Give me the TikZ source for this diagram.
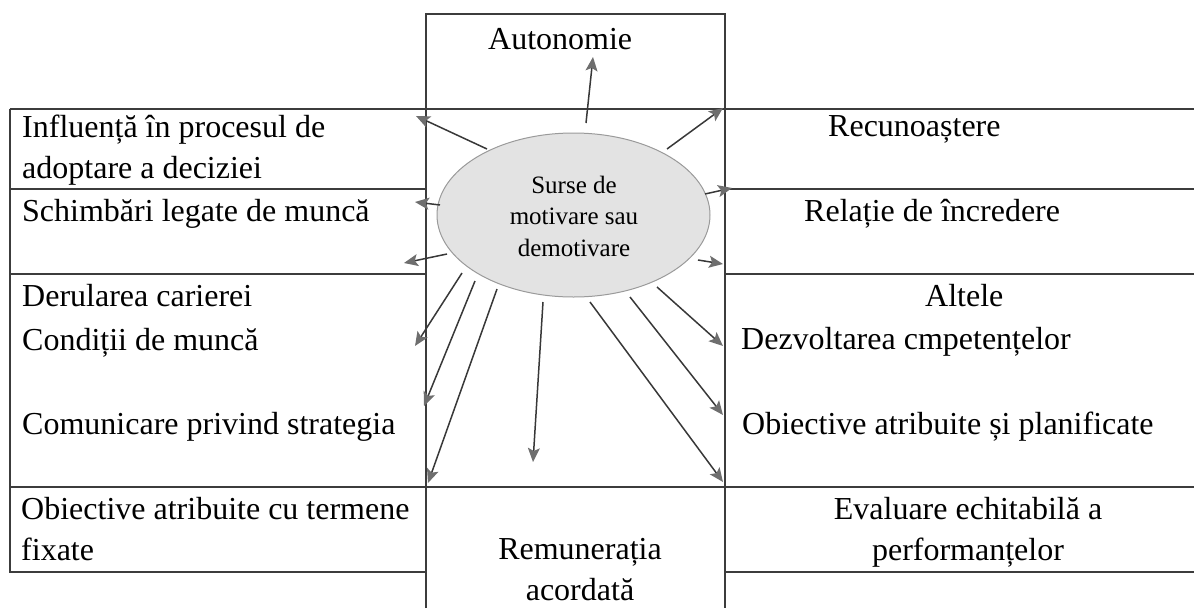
\documentclass[tikz,border=0pt]{standalone}
\usepackage{fontspec}
\setmainfont{Liberation Serif}
\usetikzlibrary{arrows.meta,shapes.geometric}
\definecolor{rule}{HTML}{3C3C3C}
\definecolor{shaft}{HTML}{383838}
\definecolor{head}{HTML}{6E6E6E}
\definecolor{ovalfill}{HTML}{E3E3E3}
\definecolor{ovaledge}{HTML}{9A9A9A}
\tikzset{
  tableline/.style={draw=rule, line width=1.8pt},
  lbl/.style={inner sep=0pt, font=\fontsize{32}{41}\selectfont},
  ovaltext/.style={inner sep=0pt, align=center, font=\fontsize{25}{31.5}\selectfont},
  ray/.style={draw=shaft, line width=1.5pt, -{Stealth[length=14pt,width=12pt,inset=3pt,color=head]}},
}
\begin{document}
\begin{tikzpicture}[x=1pt,y=-1pt]
\useasboundingbox (0,0) rectangle (1194,608);

% central column, open at the bottom
\draw[tableline] (426,608) -- (426,14) -- (725,14) -- (725,608);
% rows running across the whole width
\draw[tableline] (9.6,109) -- (1194,109);
\draw[tableline] (9.6,487) -- (1194,487);
% left block
\draw[tableline] (9.6,109) -- (9.6,572) -- (426,572);
\draw[tableline] (9.6,189) -- (426,189);
\draw[tableline] (9.6,274) -- (426,274);
% right block
\draw[tableline] (725,189) -- (1194,189);
\draw[tableline] (725,274) -- (1194,274);
\draw[tableline] (725,572) -- (1194,572);

% central oval (multi-line nodes are placed by the baseline of their last line)
\node[ellipse, minimum width=273pt, minimum height=164pt, fill=ovalfill,
      draw=ovaledge, line width=1pt] (ell) at (573.5,215) {};
\node[ovaltext, anchor=base] (src) at (574,256) {Surse de\\motivare sau\\demotivare};

% labels in the column
\node[lbl, anchor=base west] (auto) at (488,49) {Autonomie};
\node[lbl, anchor=base, align=center] (remu) at (580,600) {Remunerația\\acordată};

% left labels
\node[lbl, anchor=base west, align=left] (infl) at (22,178) {Influență în procesul de\\adoptare a deciziei};
\node[lbl, anchor=base west] (schi) at (22,221) {Schimbări legate de muncă};
\node[lbl, anchor=base west] (deru) at (22,306) {Derularea carierei};
\node[lbl, anchor=base west] (cond) at (22,350) {Condiții de muncă};
\node[lbl, anchor=base west] (comu) at (22,434) {Comunicare privind strategia};
\node[lbl, anchor=base west, align=left] (obtf) at (21,560) {Obiective atribuite cu termene\\fixate};

% right labels
\node[lbl, anchor=base west] (recu) at (828,136) {Recunoaștere};
\node[lbl, anchor=base west] (rela) at (804,221) {Relație de încredere};
\node[lbl, anchor=base west] (alte) at (925,306) {Altele};
\node[lbl, anchor=base west] (dezv) at (741,349) {Dezvoltarea cmpetențelor};
\node[lbl, anchor=base west] (obpl) at (742,434) {Obiective atribuite și planificate};
\node[lbl, anchor=base, align=center] (eval) at (968,560) {Evaluare echitabilă a\\performanțelor};

% rays leaving the oval
\foreach \i/\sx/\sy/\ex/\ey in {
   1/586/123/593/57,
   2/487/149/416/116,
   3/667/149/723/108,
   4/440/205/415/202,
   5/705/194/732/188,
   6/447/254/404/263,
   7/698/260/723/264,
   8/462/273/415/346,
   9/475/281/424/406,
  10/497/289/428/483,
  11/543/302/533/462,
  12/590/302/723/482,
  13/630/297/723/415,
  14/657/287/723/346}{
  \coordinate (s\i) at (\sx,\sy);
  \coordinate (t\i) at (\ex,\ey);
  \draw[ray] (s\i) -- (t\i);
}
\end{tikzpicture}
\end{document}
